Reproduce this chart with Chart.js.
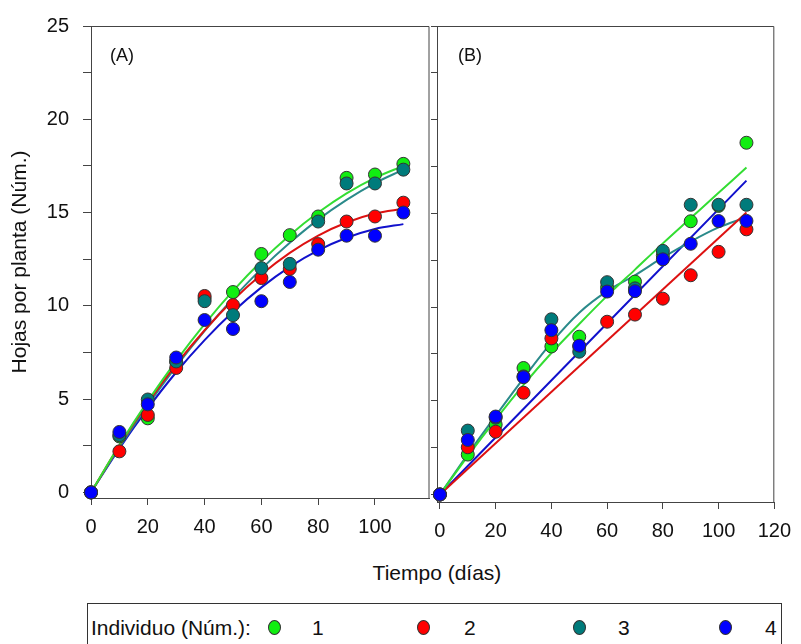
<!DOCTYPE html>
<html>
<head>
<meta charset="utf-8">
<script src="https://cdn.jsdelivr.net/npm/chart.js@4.4.0/dist/chart.umd.min.js"></script>
<style>
  body { margin: 0; background: #fff; font-family: "Liberation Sans", Arial, sans-serif; color: #111; }
  #wrap { position: relative; width: 801px; height: 644px; overflow: hidden; }
  .panel { position: absolute; top: 0; height: 560px; }
  #panelA { left: 0; width: 437px; }
  #panelB { left: 420px; width: 381px; }
  #xTitle { position: absolute; left: 337px; width: 200px; top: 560px; text-align: center; font-size: 21px; line-height: 26px; }
  #legend { position: absolute; left: 87px; top: 603px; width: 693px; height: 60px; border: 1px solid #333; }
  #legend .txt { position: absolute; top: 11px; font-size: 21px; line-height: 26px; white-space: nowrap; }
  #legend .dot { position: absolute; top: 16px; width: 13px; height: 15px; border-radius: 50%; border: 1px solid #333; box-sizing: border-box; }
</style>
</head>
<body>
<div id="wrap">
  <div class="panel" id="panelA"><canvas id="chartA"></canvas></div>
  <div class="panel" id="panelB"><canvas id="chartB"></canvas></div>
  <div id="xTitle">Tiempo (días)</div>
  <div id="legend"></div>
</div>
<script>
// días de muestreo
const dias = [0, 10, 20, 30, 40, 50, 60, 70, 80, 90, 100, 110];
const diasRecta = [0, 110];
const individuos = ['1', '2', '3', '4'];

// (A) hojas observadas
const hojasA1 = [0, 3.0, 3.97, 7.0, 10.4, 10.74, 12.78, 13.79, 14.79, 16.86, 17.04, 17.61];
const hojasA2 = [0, 2.2, 4.15, 6.67, 10.53, 10.04, 11.49, 11.98, 13.31, 14.52, 14.79, 15.53];
const hojasA3 = [0, 3.07, 4.98, 7.02, 10.25, 9.5, 12.02, 12.25, 14.52, 16.56, 16.56, 17.3];
const hojasA4 = [0, 3.24, 4.72, 7.23, 9.24, 8.76, 10.25, 11.28, 13.01, 13.76, 13.76, 15.0];
// (A) curvas ajustadas
const ajusteA1 = [0, 2.54, 4.89, 7.05, 9.02, 10.8, 12.39, 13.79, 15.0, 16.03, 16.86, 17.5];
const ajusteA2 = [0, 2.51, 4.8, 6.86, 8.69, 10.3, 11.68, 12.84, 13.77, 14.47, 14.95, 15.2];
const ajusteA3 = [0, 2.42, 4.67, 6.75, 8.66, 10.4, 11.98, 13.38, 14.62, 15.68, 16.58, 17.3];
const ajusteA4 = [0, 2.36, 4.5, 6.44, 8.16, 9.68, 10.99, 12.09, 12.97, 13.65, 14.12, 14.38];

// (B) hojas observadas
const hojasB1 = [0, 2.13, 3.73, 6.75, 7.9, 8.42, 11.05, 11.36, 12.75, 14.58, 15.4, 18.77];
const hojasB2 = [0, 2.52, 3.35, 5.43, 8.33, 7.9, 9.22, 9.6, 10.45, 11.7, 12.95, 14.15];
const hojasB3 = [0, 3.41, 4.1, 6.3, 9.35, 7.62, 11.33, 11.0, 13.0, 15.46, 15.46, 15.46];
const hojasB4 = [0, 2.91, 4.16, 6.26, 8.77, 7.94, 10.83, 10.85, 12.55, 13.38, 14.59, 14.6];
// (B) ajustes
const ajusteB1 = [0, 2.05, 4.0, 5.85, 7.55, 9.1, 10.6, 12.0, 13.4, 14.75, 16.1, 17.45];
const ajusteB2 = [0, 15.05];
const ajusteB3 = [0, 2.15, 4.2, 6.2, 8.1, 9.7, 10.85, 11.7, 12.65, 13.5, 14.25, 14.8];
const ajusteB4 = [0, 16.75];

const colPunto = ['#11ee11', '#ff0000', '#007b7b', '#0000ff'];
const colLinea = ['#33dd33', '#dd1111', '#2a8a8a', '#1111cc'];
const fuente = '"Liberation Sans", Arial, sans-serif';

function pares(xs, ys) {
  return ys.map((y, i) => ({ x: xs[i], y: y }));
}

// marco superior y derecho del panel
const marco = {
  id: 'marco',
  beforeDatasetsDraw(chart) {
    const { ctx, chartArea: a } = chart;
    ctx.save();
    ctx.strokeStyle = '#444';
    ctx.lineWidth = 1;
    ctx.beginPath();
    ctx.moveTo(a.left, a.top + 0.5);
    ctx.lineTo(a.right - 0.5, a.top + 0.5);
    ctx.lineTo(a.right - 0.5, a.bottom);
    ctx.stroke();
    ctx.restore();
  }
};

const etiqueta = {
  id: 'etiqueta',
  afterDraw(chart, args, opts) {
    const { ctx, chartArea: a } = chart;
    ctx.save();
    ctx.font = '18px ' + fuente;
    ctx.fillStyle = '#111';
    ctx.fillText(opts.text, a.left + opts.dx, a.top + opts.dy);
    ctx.restore();
  }
};

function panel(id, hojas, ajustes, xsAjuste, cfg) {
  const datasets = [];
  hojas.forEach((ys, i) => {
    datasets.push({
      label: individuos[i],
      data: pares(dias, ys),
      showLine: false,
      pointRadius: 6.5,
      pointBackgroundColor: colPunto[i],
      pointBorderColor: '#333',
      pointBorderWidth: 1,
      clip: false,
      order: 4 - i
    });
  });
  ajustes.forEach((ys, i) => {
    datasets.push({
      label: 'ajuste ' + individuos[i],
      data: pares(xsAjuste[i], ys),
      showLine: true,
      pointRadius: 0,
      borderColor: colLinea[i],
      borderWidth: 2,
      cubicInterpolationMode: 'monotone',
      clip: false,
      order: 10 + i
    });
  });

  return new Chart(document.getElementById(id), {
    type: 'scatter',
    data: { datasets: datasets },
    options: {
      responsive: true,
      maintainAspectRatio: false,
      animation: false,
      layout: { padding: { top: 21, right: cfg.padRight, left: 0, bottom: 0 } },
      plugins: {
        legend: { display: false },
        tooltip: { enabled: false },
        etiqueta: { text: cfg.tag, dx: cfg.tagDx, dy: 35 }
      },
      scales: {
        x: {
          type: 'linear',
          min: cfg.xMin,
          max: cfg.xMax,
          afterFit: (s) => { s.height = cfg.xHeight; },
          border: { color: '#444', width: 1 },
          grid: { drawOnChartArea: false, drawTicks: true, tickLength: 7, color: '#444' },
          ticks: { stepSize: 20, includeBounds: false, padding: 10, color: '#111', font: { family: fuente, size: 20 } }
        },
        y: {
          min: cfg.yMin,
          max: 25,
          afterFit: (s) => { s.width = cfg.yWidth; },
          border: { color: '#444', width: 1 },
          grid: { drawOnChartArea: false, drawTicks: true, tickLength: cfg.yTick, color: '#444' },
          ticks: {
            stepSize: 2.5,
            includeBounds: false,
            padding: 14,
            color: '#111',
            font: { family: fuente, size: 20 },
            callback: (v) => (cfg.yLabels && v % 5 === 0) ? v : ''
          },
          title: {
            display: cfg.yLabels,
            text: 'Hojas por planta (Núm.)',
            color: '#111',
            font: { family: fuente, size: 21 },
            padding: { top: 8, bottom: 0 }
          }
        }
      }
    },
    plugins: [marco, etiqueta]
  });
}

panel('chartA',
  [hojasA1, hojasA2, hojasA3, hojasA4],
  [ajusteA1, ajusteA2, ajusteA3, ajusteA4],
  [dias, dias, dias, dias],
  { xMin: 0, xMax: 119.2, yMin: -0.3, yWidth: 91, yTick: 8, yLabels: true, xHeight: 62, padRight: 2, tag: '(A)', tagDx: 19 });

panel('chartB',
  [hojasB1, hojasB2, hojasB3, hojasB4],
  [ajusteB1, ajusteB2, ajusteB3, ajusteB4],
  [dias, diasRecta, dias, diasRecta],
  { xMin: -1.05, xMax: 120, yMin: -0.4, yWidth: 17, yTick: 6, yLabels: false, xHeight: 58, padRight: 19, tag: '(B)', tagDx: 21 });

// leyenda inferior
const leyenda = document.getElementById('legend');
const rotulo = document.createElement('div');
rotulo.className = 'txt';
rotulo.style.left = '3px';
rotulo.textContent = 'Individuo (Núm.):';
leyenda.appendChild(rotulo);
const posPunto = [180, 329, 485, 631];
const posNum = [230, 382, 536, 683];
individuos.forEach((nombre, i) => {
  const d = document.createElement('div');
  d.className = 'dot';
  d.style.left = posPunto[i] + 'px';
  d.style.background = colPunto[i];
  leyenda.appendChild(d);
  const t = document.createElement('div');
  t.className = 'txt';
  t.style.left = (posNum[i] - 6) + 'px';
  t.textContent = nombre;
  leyenda.appendChild(t);
});
</script>
</body>
</html>
